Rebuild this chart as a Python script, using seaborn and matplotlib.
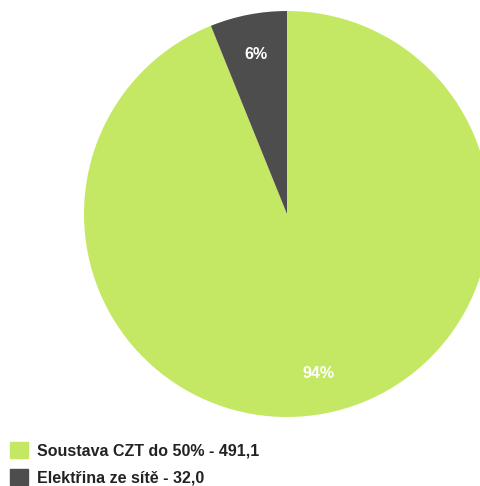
import matplotlib
matplotlib.use("Agg")
import matplotlib.pyplot as plt
import matplotlib.patches as mpatches
import seaborn as sns

# ==============================
# DATA
# ==============================

labels = ["Soustava CZT do 50%", "Elektřina ze sítě"]
values = [491.1, 32.0]
colors = ["#C5E864", "#4D4D4D"]

legend_texts = [f"{l} - {v:.1f}".replace(".", ",") for l, v in zip(labels, values)]

# ==============================
# PLOT
# ==============================

sns.set_style("white")
plt.rcParams["font.family"] = ["Liberation Sans", "DejaVu Sans"]

W, H = 481, 486
fig = plt.figure(figsize=(W / 100, H / 100), dpi=100)

cx, cy, r = 287, 214, 203
ax = fig.add_axes([(cx - r) / W, (H - cy - r) / H, 2 * r / W, 2 * r / H])

wedges, texts, autotexts = ax.pie(
    values,
    colors=colors,
    startangle=90,
    counterclock=False,
    autopct=lambda p: f"{p:.0f}%",
    pctdistance=0.8,
    radius=1.0,
    wedgeprops={"linewidth": 0},
    textprops={"color": "white", "fontsize": 11.5, "fontweight": "bold"},
)
ax.set_xlim(-1, 1)
ax.set_ylim(-1, 1)
ax.set_aspect("equal")
ax.axis("off")

handles = [mpatches.Patch(color=c, label=t) for c, t in zip(colors, legend_texts)]
fig.legend(
    handles=handles,
    loc="upper left",
    bbox_to_anchor=(10 / W, 1 - 442 / H),
    frameon=False,
    prop={"size": 11.5, "weight": "bold"},
    labelcolor="#222222",
    handlelength=1.15,
    handleheight=1.15,
    handletextpad=0.55,
    labelspacing=0.65,
    borderpad=0,
    borderaxespad=0,
)

fig.savefig("out.png", dpi=100)
